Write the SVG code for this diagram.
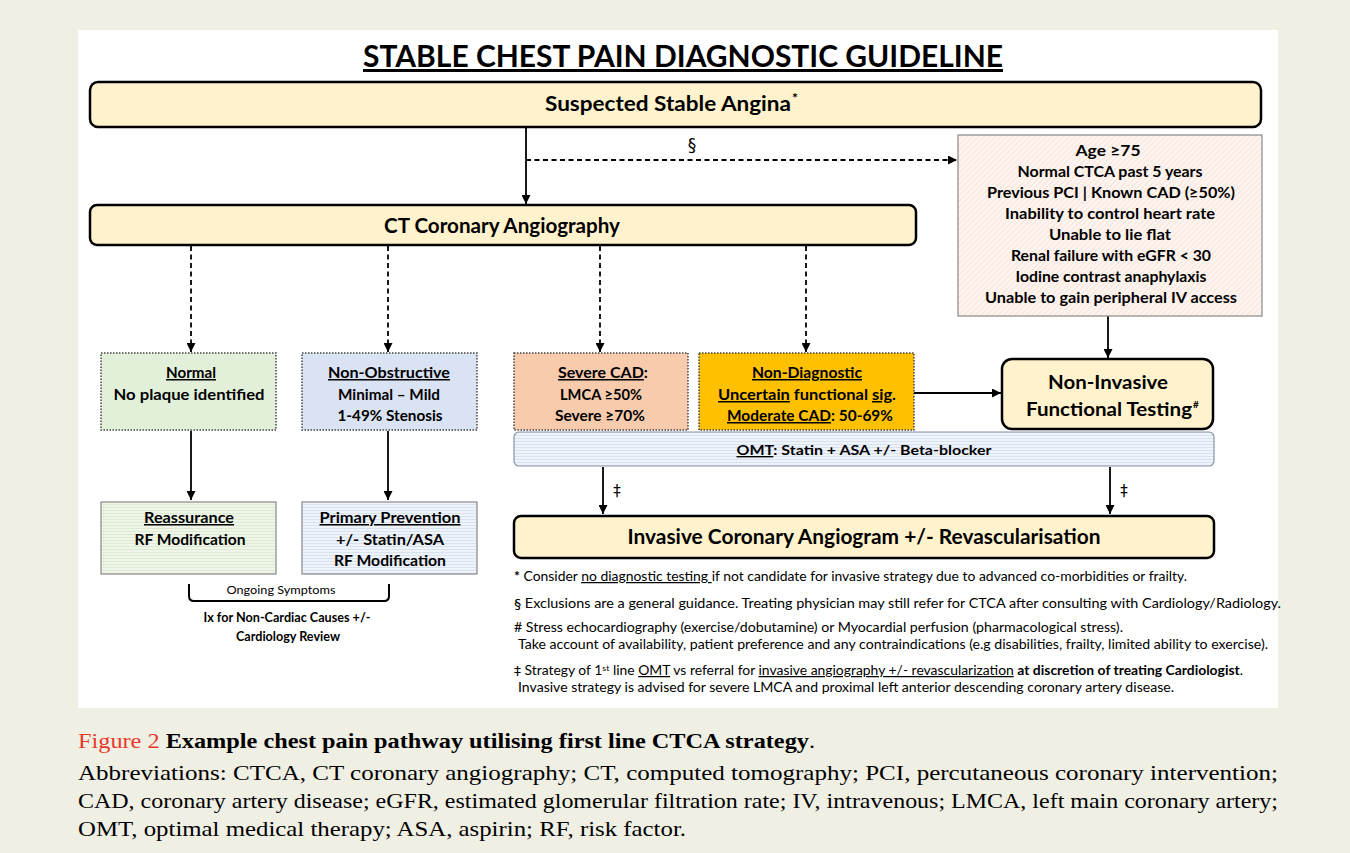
<svg xmlns="http://www.w3.org/2000/svg" width="1350" height="853" viewBox="0 0 1350 853">
<defs>
<style>
.t{font-family:Lato,"Liberation Sans",sans-serif;font-weight:bold;fill:#000;text-anchor:middle}
.h{font-size:20px}
.b{font-size:15px}
.f{font-family:Lato,"Liberation Sans",sans-serif;font-size:12.5px;fill:#000}
.c{font-family:"Liberation Serif",serif;font-size:22px;fill:#000}
.u{text-decoration:underline}
.sym{font-family:"DejaVu Sans",sans-serif;font-weight:normal;fill:#000}
.main{fill:#fff2cc;stroke:#000;stroke-width:2.5}
.dot{stroke:#444;stroke-width:1.5;stroke-dasharray:1.5 1.5}
.solid{stroke:#000;stroke-width:1.8;fill:none}
.dash{stroke:#000;stroke-width:1.8;fill:none;stroke-dasharray:5 3.5}
</style>
<marker id="ah" viewBox="0 0 10 10" refX="10" refY="5" markerWidth="5" markerHeight="5" orient="auto" markerUnits="strokeWidth">
<path d="M0,0 L10,5 L0,10 z" fill="#000"/>
</marker>
<pattern id="diag" width="4" height="4" patternUnits="userSpaceOnUse" patternTransform="rotate(45)">
<rect width="4" height="4" fill="#fdf4ef"/>
<line x1="0" y1="0" x2="0" y2="4" stroke="#f6dccf" stroke-width="1.3"/>
</pattern>
<pattern id="hg" width="4" height="3" patternUnits="userSpaceOnUse">
<rect width="4" height="3" fill="#eff6e9"/>
<line x1="0" y1="0.5" x2="4" y2="0.5" stroke="#dcead1" stroke-width="1"/>
</pattern>
<pattern id="hb" width="4" height="3" patternUnits="userSpaceOnUse">
<rect width="4" height="3" fill="#eff3fa"/>
<line x1="0" y1="0.5" x2="4" y2="0.5" stroke="#d8e1ef" stroke-width="1"/>
</pattern>
</defs>
<rect x="0" y="0" width="1350" height="853" fill="#efefe4"/>
<rect x="78" y="30" width="1200" height="678" fill="#fff"/>

<text x="683" y="67" class="t" style="font-size:30px;text-decoration:underline" textLength="640" lengthAdjust="spacingAndGlyphs">STABLE CHEST PAIN DIAGNOSTIC GUIDELINE</text>

<g id="connectors">
<line x1="526" y1="127" x2="526" y2="204" class="solid" marker-end="url(#ah)"/>
<line x1="526" y1="160" x2="957" y2="160" class="dash" marker-end="url(#ah)"/>
<text x="692" y="151" class="sym" style="font-size:17px" text-anchor="middle">§</text>
<line x1="191" y1="246" x2="191" y2="352" class="dash" marker-end="url(#ah)"/>
<line x1="388" y1="246" x2="388" y2="352" class="dash" marker-end="url(#ah)"/>
<line x1="600" y1="246" x2="600" y2="352" class="dash" marker-end="url(#ah)"/>
<line x1="806" y1="246" x2="806" y2="352" class="dash" marker-end="url(#ah)"/>
<line x1="1108" y1="316" x2="1108" y2="358" class="solid" marker-end="url(#ah)"/>
<line x1="914" y1="393" x2="1001" y2="393" class="solid" marker-end="url(#ah)"/>
<line x1="191" y1="431" x2="191" y2="500" class="solid" marker-end="url(#ah)"/>
<line x1="388" y1="431" x2="388" y2="500" class="solid" marker-end="url(#ah)"/>
<line x1="603" y1="467" x2="603" y2="514" class="solid" marker-end="url(#ah)"/>
<line x1="1110" y1="467" x2="1110" y2="514" class="solid" marker-end="url(#ah)"/>
<text x="617" y="496" class="sym" style="font-size:15px" text-anchor="middle">‡</text>
<text x="1124" y="496" class="sym" style="font-size:15px" text-anchor="middle">‡</text>
<path d="M189,584 V596 Q189,601 194,601 H384 Q389,601 389,596 V584" fill="none" stroke="#000" stroke-width="2"/>
</g>

<g id="suspected">
<rect x="90" y="82" width="1171" height="45" rx="8" class="main"/>
<text x="668" y="111" class="t h" textLength="246" lengthAdjust="spacingAndGlyphs">Suspected Stable Angina</text>
<text x="795" y="103" class="t" style="font-size:14px">*</text>
</g>

<g id="ctca">
<rect x="90" y="205" width="826" height="40" rx="7" class="main"/>
<text x="502" y="233" class="t h" textLength="236" lengthAdjust="spacingAndGlyphs">CT Coronary Angiography</text>
</g>

<g id="exclusions">
<rect x="958" y="135" width="304" height="181" fill="url(#diag)" stroke="#888" stroke-width="1.2"/>
<text x="1108" y="156" class="t b" textLength="65" lengthAdjust="spacingAndGlyphs">Age ≥75</text>
<text x="1110" y="177" class="t b" textLength="185" lengthAdjust="spacingAndGlyphs">Normal CTCA past 5 years</text>
<text x="1111" y="198" class="t b" textLength="248" lengthAdjust="spacingAndGlyphs">Previous PCI | Known CAD (≥50%)</text>
<text x="1110" y="219" class="t b" textLength="210" lengthAdjust="spacingAndGlyphs">Inability to control heart rate</text>
<text x="1110" y="240" class="t b" textLength="122" lengthAdjust="spacingAndGlyphs">Unable to lie flat</text>
<text x="1111" y="261" class="t b" textLength="200" lengthAdjust="spacingAndGlyphs">Renal failure with eGFR &lt; 30</text>
<text x="1111" y="282" class="t b" textLength="191" lengthAdjust="spacingAndGlyphs">Iodine contrast anaphylaxis</text>
<text x="1111" y="303" class="t b" textLength="252" lengthAdjust="spacingAndGlyphs">Unable to gain peripheral IV access</text>
</g>

<g id="normal">
<rect x="101" y="353" width="175" height="77" fill="#e2f0d9" class="dot"/>
<text x="191" y="378" class="t b u" textLength="50" lengthAdjust="spacingAndGlyphs">Normal</text>
<text x="189" y="400" class="t b" textLength="151" lengthAdjust="spacingAndGlyphs">No plaque identified</text>
</g>

<g id="nonobstructive">
<rect x="302" y="353" width="175" height="77" fill="#dae3f3" class="dot"/>
<text x="389" y="378" class="t b u" textLength="122" lengthAdjust="spacingAndGlyphs">Non-Obstructive</text>
<text x="389" y="400" class="t b" textLength="102" lengthAdjust="spacingAndGlyphs">Minimal – Mild</text>
<text x="390" y="421" class="t b" textLength="105" lengthAdjust="spacingAndGlyphs">1-49% Stenosis</text>
</g>

<g id="severe">
<rect x="514" y="353" width="174" height="77" fill="#f8cbad" class="dot"/>
<text x="603" y="378" class="t b" textLength="90" lengthAdjust="spacingAndGlyphs"><tspan class="u">Severe CAD</tspan>:</text>
<text x="601" y="400" class="t b" textLength="82" lengthAdjust="spacingAndGlyphs">LMCA ≥50%</text>
<text x="600" y="421" class="t b" textLength="90" lengthAdjust="spacingAndGlyphs">Severe ≥70%</text>
</g>

<g id="nondiagnostic">
<rect x="699" y="353" width="215" height="77" fill="#ffc000" class="dot"/>
<text x="807" y="378" class="t b u" textLength="110" lengthAdjust="spacingAndGlyphs">Non-Diagnostic</text>
<text x="807" y="400" class="t b" textLength="178" lengthAdjust="spacingAndGlyphs"><tspan class="u">Uncertain</tspan> functional <tspan class="u">sig</tspan>.</text>
<text x="810" y="421" class="t b" textLength="166" lengthAdjust="spacingAndGlyphs"><tspan class="u">Moderate CAD</tspan>: 50-69%</text>
</g>

<g id="noninvasive">
<rect x="1002" y="359" width="211" height="70" rx="10" class="main"/>
<text x="1108" y="389" class="t" style="font-size:19px" textLength="120" lengthAdjust="spacingAndGlyphs">Non-Invasive</text>
<text x="1109" y="416" class="t" style="font-size:19px" textLength="166" lengthAdjust="spacingAndGlyphs">Functional Testing</text>
<text x="1196" y="408" class="t" style="font-size:10px">#</text>
</g>

<g id="omt">
<rect x="514" y="432" width="700" height="34" rx="5" fill="url(#hb)" stroke="#8a96a4" stroke-width="1.2"/>
<text x="864" y="455" class="t" style="font-size:14px" textLength="255" lengthAdjust="spacingAndGlyphs"><tspan class="u">OMT</tspan>: Statin + ASA +/- Beta-blocker</text>
</g>

<g id="invasive">
<rect x="514" y="516" width="700" height="42" rx="7" class="main"/>
<text x="864" y="544" class="t h" textLength="473" lengthAdjust="spacingAndGlyphs">Invasive Coronary Angiogram +/- Revascularisation</text>
</g>

<g id="reassurance">
<rect x="101" y="502" width="175" height="72" fill="url(#hg)" stroke="#888" stroke-width="1.2"/>
<text x="189" y="523" class="t b u" textLength="90" lengthAdjust="spacingAndGlyphs">Reassurance</text>
<text x="190" y="545" class="t b" textLength="111" lengthAdjust="spacingAndGlyphs">RF Modification</text>
</g>

<g id="primary">
<rect x="302" y="502" width="175" height="72" fill="url(#hb)" stroke="#888" stroke-width="1.2"/>
<text x="390" y="523" class="t b u" textLength="141" lengthAdjust="spacingAndGlyphs">Primary Prevention</text>
<text x="390" y="545" class="t b" textLength="108" lengthAdjust="spacingAndGlyphs">+/- Statin/ASA</text>
<text x="390" y="566" class="t b" textLength="112" lengthAdjust="spacingAndGlyphs">RF Modification</text>
</g>

<g id="ongoing">
<text x="281" y="594" class="t" style="font-size:11.5px;font-weight:normal" textLength="109" lengthAdjust="spacingAndGlyphs">Ongoing Symptoms</text>
<text x="287" y="622" class="t" style="font-size:12.5px" textLength="167" lengthAdjust="spacingAndGlyphs">Ix for Non-Cardiac Causes +/-</text>
<text x="288" y="641" class="t" style="font-size:12.5px" textLength="104" lengthAdjust="spacingAndGlyphs">Cardiology Review</text>
</g>

<g id="footnotes">
<text x="514" y="581" class="f" textLength="673" lengthAdjust="spacingAndGlyphs"><tspan font-weight="bold">*</tspan> Consider <tspan class="u">no diagnostic testing </tspan>if not candidate for invasive strategy due to advanced co-morbidities or frailty.</text>
<text x="514" y="608" class="f" textLength="767" lengthAdjust="spacingAndGlyphs"><tspan font-family="DejaVu Sans">§</tspan> Exclusions are a general guidance. Treating physician may still refer for CTCA after consulting with Cardiology/Radiology.</text>
<text x="514" y="632" class="f" textLength="609" lengthAdjust="spacingAndGlyphs"># Stress echocardiography (exercise/dobutamine) or Myocardial perfusion (pharmacological stress).</text>
<text x="518" y="649" class="f" textLength="750" lengthAdjust="spacingAndGlyphs">Take account of availability, patient preference and any contraindications (e.g disabilities, frailty, limited ability to exercise).</text>
<text x="514" y="675" class="f" textLength="729" lengthAdjust="spacingAndGlyphs"><tspan font-family="DejaVu Sans">‡</tspan> Strategy of 1<tspan font-size="8" dy="-4">st</tspan><tspan dy="4"> line </tspan><tspan class="u">OMT</tspan> vs referral for <tspan class="u">invasive angiography +/- revascularization</tspan> <tspan font-weight="bold">at discretion of treating Cardiologist</tspan>.</text>
<text x="518" y="692" class="f" textLength="656" lengthAdjust="spacingAndGlyphs">Invasive strategy is advised for severe LMCA and proximal left anterior descending coronary artery disease.</text>
</g>

<g id="caption">
<text x="78" y="748" class="c" textLength="737" lengthAdjust="spacingAndGlyphs"><tspan fill="#e8392b">Figure 2</tspan> <tspan font-weight="bold">Example chest pain pathway utilising first line CTCA strategy</tspan>.</text>
<text x="78" y="780" class="c" textLength="1200" lengthAdjust="spacingAndGlyphs">Abbreviations: CTCA, CT coronary angiography; CT, computed tomography; PCI, percutaneous coronary intervention;</text>
<text x="78" y="808" class="c" textLength="1200" lengthAdjust="spacingAndGlyphs">CAD, coronary artery disease; eGFR, estimated glomerular filtration rate; IV, intravenous; LMCA, left main coronary artery;</text>
<text x="78" y="836" class="c" textLength="608" lengthAdjust="spacingAndGlyphs">OMT, optimal medical therapy; ASA, aspirin; RF, risk factor.</text>
</g>
</svg>
